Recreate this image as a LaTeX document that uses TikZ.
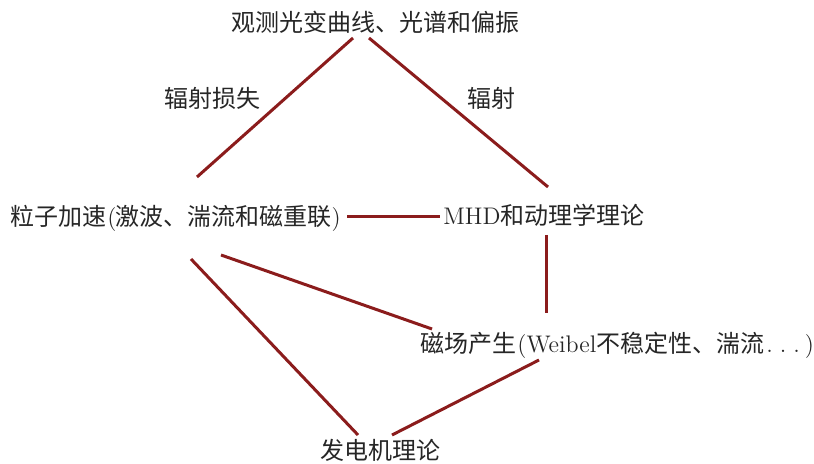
\documentclass[tikz,border=0pt]{standalone}
\usepackage{fontspec}
\newfontfamily\cjk{Noto Sans CJK SC}
\definecolor{linkred}{RGB}{139,28,28}
\tikzset{
  lbl/.style={font=\fontsize{12}{14}\selectfont, inner sep=0pt, text=black!85},
  link/.style={draw=linkred, line width=1.5pt}
}
\begin{document}
\begin{tikzpicture}[x=0.5pt,y=-0.5pt]
\useasboundingbox (0,0) rectangle (814,464);
% nodes
\node[lbl] (obs) at (375,22) {\cjk 观测光变曲线、光谱和偏振};
\node[lbl] (radloss) at (212,98) {\cjk 辐射损失};
\node[lbl] (rad) at (491,98) {\cjk 辐射};
\node[lbl, anchor=west] (acc) at (10,218) {{\cjk 粒子加速}\hspace{0.5pt}(\hspace{-0.5pt}{\cjk 激波、湍流和磁重联})};
\node[lbl, anchor=west] (mhd) at (443,215) {MHD{\cjk 和动理学理论}};
\node[lbl, anchor=west] (mag) at (420,345) {{\cjk 磁场产生}\hspace{0.5pt}(Weibel{\cjk 不稳定性、湍流}\hspace{1pt}.\hspace{3.5pt}.\hspace{3.5pt}.\hspace{2.5pt})};
\node[lbl] (dyn) at (380,450) {\cjk 发电机理论};
% connector ends
\coordinate (obsL) at (353,38);
\coordinate (obsR) at (369,38);
\coordinate (accT) at (197,177);
\coordinate (mhdT) at (548,187);
\coordinate (accR) at (347,217);
\coordinate (mhdL) at (440,217);
\coordinate (mhdB1) at (546,235);
\coordinate (magT) at (546,313);
\coordinate (accB1) at (221,255);
\coordinate (magL) at (432,329);
\coordinate (accB2) at (191,259);
\coordinate (dynL) at (358,435);
\coordinate (magB) at (539,360);
\coordinate (dynR) at (392,435);
% connectors
\draw[link] (obsL) -- (accT);
\draw[link] (obsR) -- (mhdT);
\draw[link] (accR) -- (mhdL);
\draw[link] (mhdB1) -- (magT);
\draw[link] (accB1) -- (magL);
\draw[link] (accB2) -- (dynL);
\draw[link] (magB) -- (dynR);
\end{tikzpicture}
\end{document}
